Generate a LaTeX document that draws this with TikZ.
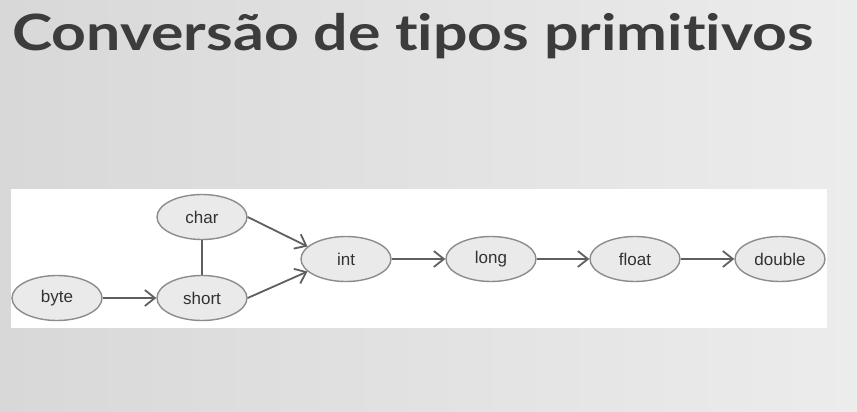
\documentclass[tikz,border=0pt]{standalone}
\usepackage{fontspec}
\setmainfont{Liberation Sans}
\newfontfamily\titlefont{Lato}[Ligatures=NoCommon]
\usetikzlibrary{arrows.meta,shapes.geometric}
\definecolor{bgleft}{RGB}{216,216,216}
\definecolor{bgright}{RGB}{236,236,236}
\definecolor{titletext}{RGB}{60,60,60}
\definecolor{nodefill}{RGB}{234,234,234}
\definecolor{nodeline}{RGB}{140,140,140}
\definecolor{nodetext}{RGB}{50,50,50}
\definecolor{arrowline}{RGB}{95,95,95}
\begin{document}
\begin{tikzpicture}[x=1pt,y=-1pt,
    tipo/.style={ellipse,draw=nodeline,fill=nodefill,line width=1.4pt,
      minimum width=90pt,minimum height=45pt,inner sep=0pt,
      font=\fontsize{17}{20}\selectfont,text=nodetext},
    seta/.style={draw=arrowline,line width=1.8pt,
      -{Straight Barb[length=10pt,width=16pt]}}]
    \useasboundingbox (0,0) rectangle (857,412);
    \shade[left color=bgleft,right color=bgright] (0,0) rectangle (857,412);
    \node[anchor=base west,inner sep=0pt,text=titletext,
      font=\titlefont\bfseries\fontsize{50}{54}\selectfont] (titulo) at (12,51)
      {\scalebox{1.215}[1]{Conversão de tipos primitivos}};
    \fill[white] (11,189) rectangle (827,328);
    \node[tipo] (byte) at (57,298) {byte};
    \node[tipo] (short) at (202,298) {short};
    \node[tipo] (char) at (202,217) {char};
    \node[tipo] (int) at (346,259) {int};
    \node[tipo] (long) at (491,259) {long};
    \node[tipo] (float) at (635,259) {float};
    \node[tipo] (double) at (780,259) {double};
    \draw[seta] (byte) -- (short);
    \draw[seta] (char.east) -- (int.162);
    \draw[seta] (short.east) -- (int.198);
    \draw[seta,-] (char) -- (short);
    \draw[seta] (int) -- (long);
    \draw[seta] (long) -- (float);
    \draw[seta] (float) -- (double);
\end{tikzpicture}
\end{document}
